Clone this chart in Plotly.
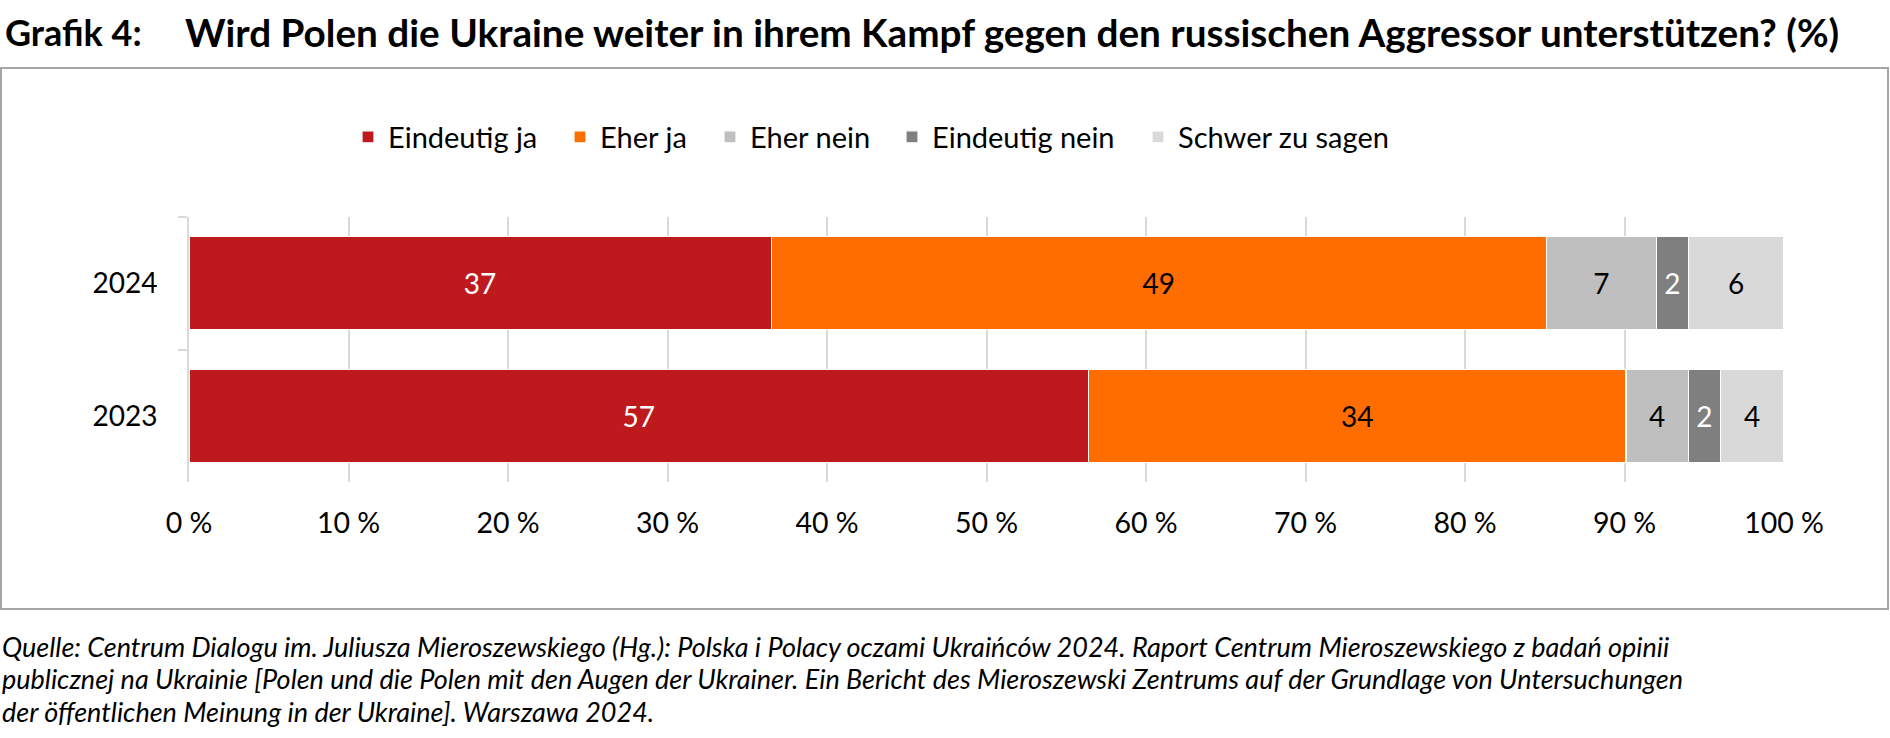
import plotly.graph_objects as go

# ---- data ----
years = ["2024", "2023"]
categories = ["Eindeutig ja", "Eher ja", "Eher nein", "Eindeutig nein", "Schwer zu sagen"]
eindeutig_ja = [36.5, 56.4]
eher_ja = [48.6, 33.7]
eher_nein = [6.9, 3.9]
eindeutig_nein = [2.0, 2.0]
schwer_zu_sagen = [6.0, 4.0]
labels_eindeutig_ja = ["37", "57"]
labels_eher_ja = ["49", "34"]
labels_eher_nein = ["7", "4"]
labels_eindeutig_nein = ["2", "2"]
labels_schwer = ["6", "4"]
x_ticks = [0, 10, 20, 30, 40, 50, 60, 70, 80, 90, 100]
x_tick_labels = [f"{v} %" for v in x_ticks]

title_prefix = "Grafik 4:"
title_text = "Wird Polen die Ukraine weiter in ihrem Kampf gegen den russischen Aggressor unterstützen? (%)"
source_lines = [
    "Quelle: Centrum Dialogu im. Juliusza Mieroszewskiego (Hg.): Polska i Polacy oczami Ukraińców 2024. Raport Centrum Mieroszewskiego z badań opinii",
    "publicznej na Ukrainie [Polen und die Polen mit den Augen der Ukrainer. Ein Bericht des Mieroszewski Zentrums auf der Grundlage von Untersuchungen",
    "der öffentlichen Meinung in der Ukraine]. Warszawa 2024.",
]

# ---- styles ----
colors = ["#BE1A1D", "#FF6D00", "#BFBFBF", "#7F7F7F", "#D9D9D9"]
text_colors = ["white", "black", "black", "white", "black"]
legend_square_px = [362, 574, 724, 906, 1152]
FONT = "Lato"
W, H = 1890, 738
L, R, T, B = 189, 1784, 217, 482


def px_x(px):
    return (px - L) / (R - L)


def px_y(py):
    return (B - py) / (B - T)


series = [eindeutig_ja, eher_ja, eher_nein, eindeutig_nein, schwer_zu_sagen]
series_labels = [labels_eindeutig_ja, labels_eher_ja, labels_eher_nein,
                 labels_eindeutig_nein, labels_schwer]

fig = go.Figure()
legend_layouts = {}
for i, (name, vals, labs, col, tcol) in enumerate(zip(categories, series, series_labels, colors, text_colors)):
    lg = "legend" if i == 0 else f"legend{i + 1}"
    fig.add_trace(go.Bar(
        name=name, y=years, x=vals, orientation="h",
        marker=dict(color=col, line=dict(color="white", width=1.2)),
        text=labs, textposition="inside", insidetextanchor="middle",
        textangle=0, textfont=dict(family=FONT, size=28, color=tcol),
        hoverinfo="skip", legend=lg,
    ))
    legend_layouts[lg] = dict(
        orientation="h", x=px_x(legend_square_px[i] - 14), xanchor="left",
        y=px_y(137), yanchor="middle",
        font=dict(family=FONT, size=29, color="black"),
        bgcolor="rgba(0,0,0,0)", borderwidth=0,
    )

fig.update_layout(
    width=W, height=H,
    margin=dict(l=L, r=W - R, t=T, b=H - B, pad=0),
    barmode="stack", bargap=0.3,
    paper_bgcolor="white", plot_bgcolor="white",
    font=dict(family=FONT, size=28, color="black"),
    showlegend=True,
    xaxis=dict(range=[0, 100], tickvals=x_ticks, ticktext=x_tick_labels,
               showgrid=True, gridcolor="#D9D9D9", gridwidth=1.5,
               zeroline=False, showline=False, ticks="",
               ticklabelstandoff=21, fixedrange=True,
               tickfont=dict(family=FONT, size=28.5, color="black")),
    yaxis=dict(autorange="reversed", type="category",
               showline=True, linecolor="#D9D9D9", linewidth=2,
               ticks="outside", tickson="boundaries", ticklen=9,
               tickcolor="#D9D9D9", tickwidth=2,
               ticklabelstandoff=24, showgrid=False, zeroline=False,
               tickfont=dict(family=FONT, size=28, color="black")),
    **legend_layouts,
)

# frame around chart
fig.add_shape(type="rect", xref="paper", yref="paper",
              x0=px_x(1), x1=px_x(1888), y0=px_y(609), y1=px_y(68),
              line=dict(color="#A6A6A6", width=2), fillcolor="rgba(0,0,0,0)",
              layer="below")

# titles
fig.add_annotation(text=title_prefix, xref="paper", yref="paper",
                   x=px_x(3), y=px_y(32), xanchor="left", yanchor="middle",
                   showarrow=False,
                   font=dict(family=FONT, size=36, color="black", weight=700))
fig.add_annotation(text=title_text, xref="paper", yref="paper",
                   x=px_x(183), y=px_y(32), xanchor="left", yanchor="middle",
                   showarrow=False,
                   font=dict(family=FONT, size=38.7, color="black", weight=700))

# source lines
for i, line in enumerate(source_lines):
    fig.add_annotation(text=line, xref="paper", yref="paper",
                       x=px_x(0), y=px_y(646 + 32.5 * i), xanchor="left", yanchor="middle",
                       showarrow=False,
                       font=dict(family=FONT, size=27, color="black", style="italic"))

fig.write_html("out.html", config={"displayModeBar": False},
               post_script="document.body.style.margin='0';document.body.style.overflow='hidden';")
